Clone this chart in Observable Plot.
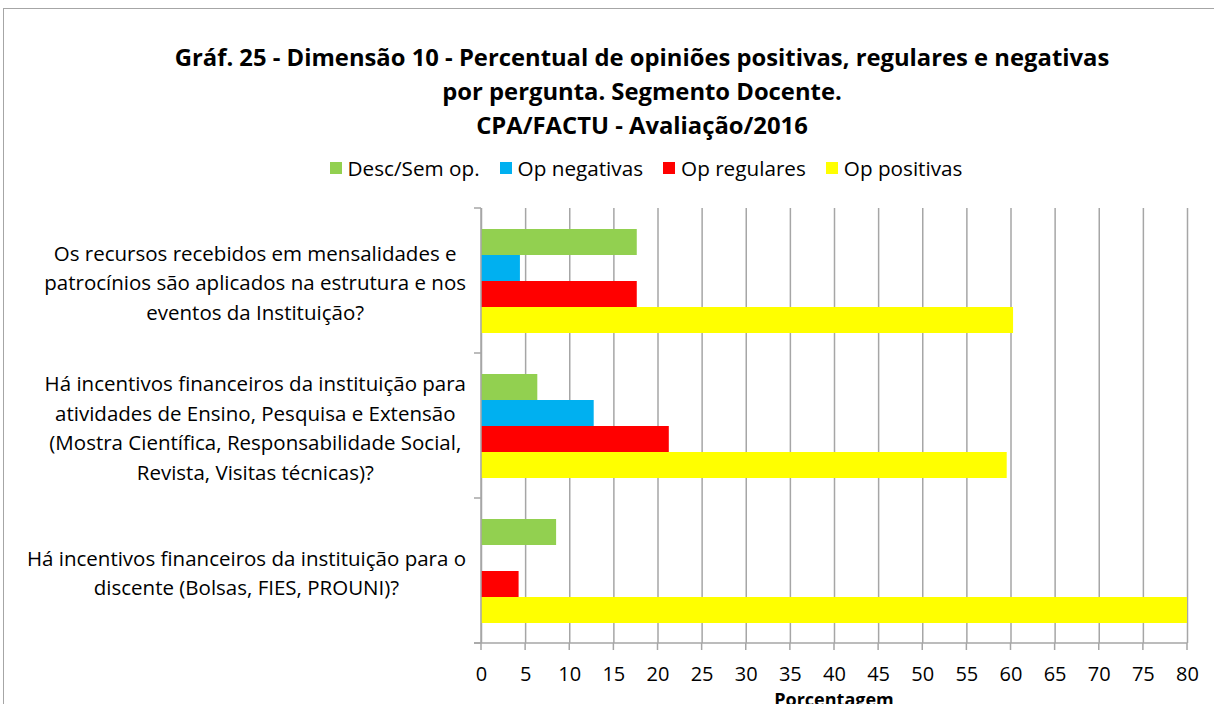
<!DOCTYPE html>
<html><head><meta charset="utf-8">
<script src="https://cdn.jsdelivr.net/npm/d3@7"></script>
<script src="https://cdn.jsdelivr.net/npm/@observablehq/plot@0.6"></script>
<style>
html,body{margin:0;padding:0;background:#fff;overflow:hidden;width:1214px;height:704px;}
body{position:relative;font-family:"Open Sans",sans-serif;color:#000;}
#border{position:absolute;left:3px;top:8px;width:1400px;height:900px;border:1px solid #a6a6a6;box-sizing:border-box;}
#title{position:absolute;left:0;width:1284px;top:40px;text-align:center;font-weight:bold;font-size:23.8px;line-height:34px;}
#legend{position:absolute;left:0;width:1292px;top:154px;display:flex;justify-content:center;font-size:20.7px;line-height:28px;}
#legend .item{display:flex;align-items:center;margin:0 10px;}
#legend .sw{width:12px;height:12px;margin-right:6px;}
#chart{position:absolute;left:0;top:190px;}
#xlabel{position:absolute;left:0;width:1668px;top:690px;text-align:center;font-weight:bold;font-size:18px;line-height:18px;}
</style>
</head><body>
<div id="border"></div>
<div id="title">Gráf. 25 - Dimensão 10 - Percentual de opiniões positivas, regulares e negativas<br>por pergunta. Segmento Docente.<br>CPA/FACTU - Avaliação/2016</div>
<div id="legend"></div>
<div id="chart"></div>
<div id="xlabel">Porcentagem</div>
<script>
const questions = [
  "Os recursos recebidos em mensalidades e\npatrocínios são aplicados na estrutura e nos\neventos da Instituição?",
  "Há incentivos financeiros da instituição para\natividades de Ensino, Pesquisa e Extensão\n(Mostra Científica, Responsabilidade Social,\nRevista, Visitas técnicas)?",
  "Há incentivos financeiros da instituição para o\ndiscente (Bolsas, FIES, PROUNI)?"
];
const series = ["Desc/Sem op.", "Op negativas", "Op regulares", "Op positivas"];
const colors = ["#92d050", "#00b0f0", "#ff0000", "#ffff00"];
const descSemOp   = [17.65, 6.38, 8.51];
const opNegativas = [4.41, 12.77, 0];
const opRegulares = [17.65, 21.28, 4.26];
const opPositivas = [60.29, 59.57, 87.23];
const xTicks = [0,5,10,15,20,25,30,35,40,45,50,55,60,65,70,75,80];

const seriesValues = [descSemOp, opNegativas, opRegulares, opPositivas];
const data = questions.flatMap((q, i) => series.map((s, j) => ({question: q, series: s, value: seriesValues[j][i]})));

// legend
const leg = document.getElementById("legend");
series.forEach((s, j) => {
  const it = document.createElement("div"); it.className = "item";
  const sw = document.createElement("div"); sw.className = "sw"; sw.style.background = colors[j];
  const tx = document.createElement("span"); tx.textContent = s;
  it.appendChild(sw); it.appendChild(tx); leg.appendChild(it);
});

const chart = Plot.plot({
  width: 1214, height: 514,
  marginLeft: 481, marginRight: 27, marginTop: 17, marginBottom: 61,
  style: {fontFamily: "Open Sans", fontSize: "20px", color: "#000", background: "transparent", overflow: "visible"},
  x: {domain: [0, 80], ticks: xTicks, tickSize: 0, tickPadding: 23, label: null},
  y: {domain: series, axis: null, paddingInner: 0, paddingOuter: 0.74},
  fy: {domain: questions, axis: null, padding: 0},
  color: {domain: series, range: colors},
  marks: [
    Plot.ruleX(xTicks, {stroke: "#a6a6a6", strokeWidth: 1.5}),
    Plot.barX(data, {x: "value", y: "series", fy: "question", fill: "series", clip: true}),
    Plot.text(questions, {fy: d => d, text: d => d, frameAnchor: "left", dx: -224, textAnchor: "middle", lineHeight: 1.44, fontSize: 20.5, fill: "#000"})
  ]
});
document.getElementById("chart").appendChild(chart);

// label blocks: lines centred within a block whose right edge sits just left of the axis
const svgLeft = chart.getBoundingClientRect().left;
d3.select(chart).selectAll('g[aria-label="text"] text').each(function() {
  const r = this.getBoundingClientRect();
  const shift = 466 - (r.right - svgLeft);
  const t = this.getAttribute("transform") || "";
  this.setAttribute("transform", `translate(${shift},0) ` + t);
});

// axis lines drawn from the library's scales
const xs = chart.scale("x"), fys = chart.scale("fy");
const x0 = xs.apply(0), x80 = xs.apply(80);
const bounds = questions.map(q => fys.apply(q));
bounds.push(fys.apply(questions[questions.length - 1]) + fys.bandwidth);
const svg = d3.select(chart);
const g = svg.append("g").attr("stroke", "#a6a6a6").attr("stroke-width", 1.5);
const yTop = bounds[0], yBot = bounds[bounds.length - 1];
g.append("line").attr("x1", x0).attr("x2", x0).attr("y1", yTop).attr("y2", yBot);
g.append("line").attr("x1", x0 - 7).attr("x2", x80).attr("y1", yBot).attr("y2", yBot);
bounds.forEach(b => g.append("line").attr("x1", x0 - 7).attr("x2", x0).attr("y1", b).attr("y2", b));
xTicks.forEach(t => g.append("line").attr("x1", xs.apply(t)).attr("x2", xs.apply(t)).attr("y1", yBot).attr("y2", yBot + 7));
</script>
</body></html>
